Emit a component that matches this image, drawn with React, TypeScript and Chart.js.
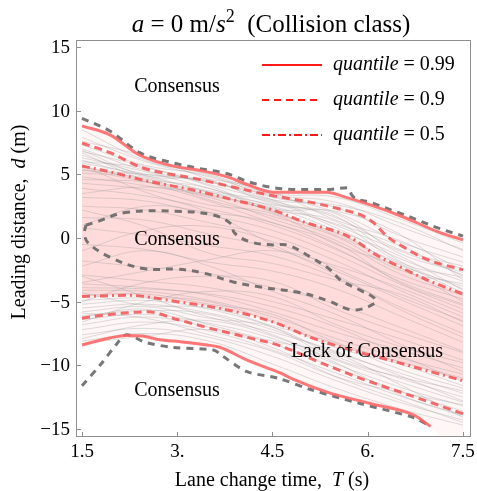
import React, { useEffect, useRef } from 'react';
import { Chart, registerables } from 'chart.js';
Chart.register(...registerables);

// ---------- data ----------
const xTicks = [1.5, 3, 4.5, 6, 7.5];
const xTickLabels = ['1.5', '3.', '4.5', '6.', '7.5'];
const yTicks = [-15, -10, -5, 0, 5, 10, 15];
const yTickLabels = ['\u221215', '\u221210', '\u22125', '0', '5', '10', '15'];

// quantile 0.99 (upper / lower)
const up99T = [1.5, 1.94, 2.41, 2.89, 3.36, 3.79, 4.1, 4.5, 5.36, 5.62, 6.04, 6.56, 7.1, 7.5];
const up99D = [8.8, 8.1, 6.5, 5.7, 5.3, 4.8, 4.2, 3.6, 3.6, 3.25, 2.6, 1.65, 0.5, -0.15];
const lo99T = [1.5, 1.94, 2.21, 2.45, 2.73, 3.05, 3.47, 3.68, 4.1, 4.62, 4.83, 5.36, 6.04, 6.72, 6.99];
const lo99D = [-8.4, -7.85, -7.65, -7.7, -8.0, -8.15, -8.4, -8.6, -9.6, -10.6, -11.1, -12.1, -13.0, -13.9, -14.8];
// lower edge of the faint band beyond the end of the 0.99 line (runs off the frame)
const bandEdgeT = [6.99, 7.3, 7.7];
const bandEdgeD = [-14.8, -16.5, -18.0];
// quantile 0.9
const up90T = [1.5, 1.94, 2.46, 3.25, 3.88, 4.42, 5.1, 5.62, 5.9, 6.09, 6.31, 6.56, 6.94, 7.5];
const up90D = [7.45, 6.7, 5.5, 4.7, 4.0, 3.4, 2.8, 2.2, 1.8, 1.2, 0.1, -0.7, -1.7, -2.5];
const lo90T = [1.5, 1.94, 2.53, 3.0, 3.52, 4.1, 4.58, 5.36, 5.93, 6.63, 7.5];
const lo90D = [-6.3, -6.0, -5.8, -6.4, -7.1, -7.8, -8.4, -10.0, -11.1, -12.3, -13.8];
// quantile 0.5
const up50T = [1.5, 1.94, 2.46, 3.25, 3.88, 4.51, 4.99, 5.62, 5.84, 6.09, 6.52, 6.94, 7.5];
const up50D = [5.65, 5.2, 4.55, 3.77, 3.0, 2.2, 1.26, 0.3, -0.3, -1.2, -2.3, -3.3, -4.4];
const lo50T = [1.5, 2.21, 3.0, 3.79, 4.51, 5.1, 5.88, 6.2, 6.99, 7.5];
const lo50D = [-4.6, -4.5, -5.0, -5.65, -6.6, -7.8, -9.0, -9.4, -10.5, -11.2];

// consensus boundary contours (gray dashed)
const topContT = [1.5, 1.94, 2.41, 2.89, 3.36, 3.79, 4.1, 4.51, 5.0, 5.36, 5.68, 5.76, 6.04, 6.56, 7.1, 7.5];
const topContD = [9.4, 8.4, 6.7, 5.95, 5.45, 5.05, 4.45, 3.95, 3.8, 3.8, 3.95, 3.3, 2.8, 1.85, 0.8, 0.15];
const islandT = [1.56, 1.75, 2.18, 2.97, 3.57, 3.85, 3.9, 4.15, 4.51, 4.73, 5.1, 5.41, 5.57, 5.88, 6.1, 6.12, 5.77, 5.36, 4.94, 4.31, 3.88, 3.41, 3.0, 2.46, 1.94, 1.6, 1.54, 1.56];
const islandD = [1.0, 1.3, 2.0, 2.1, 1.8, 1.1, 0.4, -0.3, -0.55, -0.55, -1.5, -2.5, -3.3, -4.1, -4.7, -5.1, -5.65, -4.9, -4.3, -3.85, -3.45, -2.75, -2.45, -2.4, -1.5, -0.4, 0.3, 1.0];
const lowContT = [1.5, 1.8, 2.05, 2.2, 2.5, 2.94, 3.57, 3.72, 4.1, 4.58, 5.1, 5.88, 6.72, 6.99];
const lowContD = [-11.6, -9.9, -8.3, -7.6, -8.2, -8.6, -8.8, -9.3, -10.5, -11.0, -11.9, -13.0, -14.1, -14.8];

// individual trajectories (thin gray)
const trajT = [1.5, 2.5, 3.5, 4.5, 5.5, 6.5, 7.5];
const trajectories: number[][] = [
  [8.5, 6.1, 5.0, 3.5, 3.2, 1.5, -0.4],
  [7.9, 6.0, 4.8, 3.4, 2.8, 0.9, -0.9],
  [7.3, 5.7, 4.9, 3.2, 2.4, 0.2, -1.5],
  [7.0, 5.3, 4.4, 3.3, 2.0, -0.3, -1.9],
  [6.8, 5.6, 4.2, 2.9, 1.6, -0.9, -2.2],
  [6.5, 5.0, 4.5, 2.7, 1.9, -1.2, -2.7],
  [6.3, 5.2, 3.9, 2.5, 1.1, -0.6, -3.0],
  [6.1, 4.8, 3.7, 2.8, 0.8, -1.6, -3.4],
  [5.9, 4.9, 3.6, 2.2, 1.3, -1.9, -3.1],
  [5.6, 4.6, 3.9, 2.0, 0.4, -2.1, -3.8],
  [5.4, 4.4, 3.3, 2.4, 0.6, -1.4, -4.1],
  [5.1, 4.7, 3.0, 1.7, 0.1, -2.5, -3.6],
  [4.8, 4.1, 3.2, 1.5, -0.2, -2.8, -4.5],
  [4.3, 3.8, 2.6, 1.9, -0.5, -2.3, -5.0],
  [3.9, 3.3, 2.3, 1.0, -0.9, -3.2, -4.8],
  [3.2, 2.9, 1.8, 0.6, -1.3, -3.6, -5.6],
  [2.5, 2.2, 1.2, 0.1, -1.8, -4.1, -6.2],
  [1.6, 1.4, 0.3, -0.8, -2.6, -4.8, -6.9],
  [0.8, 0.2, -0.6, -1.4, -3.1, -5.4, -7.5],
  [-0.5, -0.9, -1.9, -2.6, -4.0, -6.1, -8.2],
  [-1.8, -2.3, -2.8, -3.9, -5.2, -7.0, -8.9],
  [-2.9, -3.4, -3.9, -5.0, -6.4, -7.9, -9.6],
  [2.2, 0.9, -1.2, -2.0, -3.3, -4.4, -6.6],
  [-3.5, -2.6, -1.7, -1.0, -2.2, -3.9, -5.9],
  [-3.6, -3.9, -4.5, -5.8, -7.4, -8.8, -10.2],
  [-4.1, -4.2, -4.9, -6.2, -7.9, -9.4, -10.7],
  [-4.5, -4.4, -5.2, -6.0, -8.2, -9.7, -11.0],
  [-4.9, -4.7, -5.0, -6.6, -8.6, -9.9, -11.6],
  [-5.2, -4.9, -5.6, -6.9, -8.3, -10.3, -11.8],
  [-5.5, -5.2, -5.9, -7.2, -9.0, -10.6, -12.2],
  [-5.8, -5.4, -6.3, -7.0, -9.3, -11.0, -12.5],
  [-6.1, -5.7, -6.0, -7.6, -9.6, -11.3, -12.9],
  [-6.4, -6.0, -6.7, -7.9, -9.9, -11.7, -13.2],
  [-6.8, -6.2, -7.0, -8.3, -10.2, -12.0, -13.6],
  [-7.2, -6.6, -7.3, -8.8, -10.6, -12.4, -13.9],
  [-7.6, -7.1, -7.8, -9.3, -11.2, -12.9, -14.3],
  [-8.1, -7.5, -8.1, -9.9, -11.8, -13.4, -14.7],
  [7.6, 6.4, 4.6, 3.0, 2.6, 1.2, -1.0],
  [6.9, 4.9, 4.6, 3.6, 1.4, -0.2, -2.5],
  [6.0, 5.5, 4.1, 2.3, 2.1, 0.3, -3.3],
  [5.3, 5.0, 4.4, 3.0, 1.0, -1.0, -2.9],
  [4.6, 4.4, 3.6, 2.6, 1.7, -1.8, -4.0],
  [6.7, 4.5, 2.9, 1.2, -0.4, -3.5, -5.3],
  [3.5, 4.0, 3.4, 2.1, 0.2, -2.0, -4.3],
  [5.7, 3.6, 2.0, -0.5, -2.9, -5.6, -7.8],
  [1.0, 2.5, 2.0, 1.2, -0.8, -3.4, -5.2],
  [-1.0, 0.6, 0.9, -0.3, -2.4, -4.6, -6.5],
  [-2.2, -1.0, -2.2, -4.2, -6.0, -8.3, -10.5],
  [-5.0, -3.5, -3.0, -3.4, -5.6, -7.4, -9.0],
  [-6.6, -5.0, -4.2, -4.6, -6.8, -8.5, -9.8],
  [-3.0, -4.6, -6.2, -7.4, -8.9, -10.8, -12.8],
  [-7.9, -6.8, -6.5, -7.7, -9.8, -12.3, -14.0],
  [-5.9, -6.3, -7.6, -8.9, -10.9, -12.1, -13.1],
  [-4.3, -5.3, -5.5, -7.0, -9.5, -10.9, -12.0],
  [-8.3, -7.7, -7.2, -8.6, -10.9, -12.7, -14.5],
  [-6.2, -5.6, -6.8, -8.1, -9.1, -11.5, -14.1],
  [-3.9, -4.0, -4.4, -5.4, -7.0, -9.2, -11.3],
];

const legendLabels = ['0.99', '0.9', '0.5'];

// ---------- styling ----------
const FONT = '"Liberation Serif", "Times New Roman", Times, serif';
const RED = 'rgba(243, 82, 82, 0.85)';
const GRAYDASH = 'rgba(95, 95, 95, 0.85)';
const DASH = [8, 5];
const DASHDOT = [8, 4, 2, 4];
const CONTDASH = [7, 6];

const pts = (xs: number[], ys: number[]) => xs.map((x, i) => ({ x, y: ys[i] }));

type Part = { t: string; i?: boolean; sup?: boolean };
function rich(ctx: CanvasRenderingContext2D, parts: Part[], x: number, y: number, size: number, align: 'left' | 'center') {
  const fontOf = (p: Part) => `${p.i ? 'italic ' : ''}${p.sup ? Math.round(size * 0.7) : size}px ${FONT}`;
  let w = 0;
  for (const p of parts) { ctx.font = fontOf(p); w += ctx.measureText(p.t).width; }
  let cx = align === 'center' ? x - w / 2 : x;
  ctx.textAlign = 'left';
  for (const p of parts) {
    ctx.font = fontOf(p);
    ctx.fillText(p.t, cx, p.sup ? y - size * 0.42 : y);
    cx += ctx.measureText(p.t).width;
  }
}

const decor = {
  id: 'decor',
  afterDraw(chart: any) {
    const { ctx, chartArea: a } = chart;
    const xs = chart.scales.x, ys = chart.scales.y;
    ctx.save();
    // frame
    ctx.strokeStyle = '#8f8f8f';
    ctx.lineWidth = 1;
    ctx.setLineDash([]);
    ctx.strokeRect(a.left + 0.5, a.top + 0.5, a.right - a.left - 1, a.bottom - a.top - 1);
    // inward ticks
    ctx.beginPath();
    xTicks.forEach(v => {
      const px = Math.round(xs.getPixelForValue(v)) + 0.5;
      ctx.moveTo(px, a.bottom); ctx.lineTo(px, a.bottom - 5);
    });
    yTicks.forEach(v => {
      const py = Math.round(ys.getPixelForValue(v)) + 0.5;
      ctx.moveTo(a.left, py); ctx.lineTo(a.left + 5, py);
    });
    ctx.stroke();
    // tick labels
    ctx.fillStyle = '#000';
    ctx.font = `19px ${FONT}`;
    ctx.textBaseline = 'alphabetic';
    ctx.textAlign = 'center';
    xTicks.forEach((v, i) => ctx.fillText(xTickLabels[i], xs.getPixelForValue(v), 457));
    ctx.textAlign = 'right';
    ctx.textBaseline = 'middle';
    yTicks.forEach((v, i) => ctx.fillText(yTickLabels[i], a.left - 6, ys.getPixelForValue(v) + 1));
    // title
    ctx.textBaseline = 'alphabetic';
    rich(ctx, [{ t: 'a', i: true }, { t: ' = 0 m/' }, { t: 's', i: true }, { t: '2', sup: true }, { t: '  (Collision class)' }], 271, 32, 25, 'center');
    // x axis title
    rich(ctx, [{ t: 'Lane change time,  ' }, { t: 'T', i: true }, { t: ' (s)' }], 272, 486, 20, 'center');
    // y axis title
    ctx.save();
    ctx.translate(25, 222);
    ctx.rotate(-Math.PI / 2);
    rich(ctx, [{ t: 'Leading distance,  ' }, { t: 'd', i: true }, { t: ' (m)' }], 0, 0, 20, 'center');
    ctx.restore();
    // region annotations
    ctx.textBaseline = 'middle';
    ctx.textAlign = 'center';
    ctx.font = `20px ${FONT}`;
    ctx.fillText('Consensus', 177, 87);
    ctx.fillText('Consensus', 177, 240);
    ctx.fillText('Consensus', 177, 391);
    ctx.fillText('Lack of Consensus', 367, 352);
    // legend
    const rows = [65, 100, 135];
    const dashes = [[], [7, 5], [8, 3, 2, 3]];
    rows.forEach((ry, i) => {
      ctx.strokeStyle = '#ff1a1a';
      ctx.lineWidth = 2;
      ctx.setLineDash(dashes[i]);
      ctx.beginPath();
      ctx.moveTo(262, ry); ctx.lineTo(322, ry);
      ctx.stroke();
      ctx.setLineDash([]);
      ctx.fillStyle = '#000';
      ctx.textBaseline = 'middle';
      rich(ctx, [{ t: 'quantile', i: true }, { t: ' = ' + legendLabels[i] }], 333, ry, 20, 'left');
    });
    ctx.restore();
  },
};

export default function App() {
  const ref = useRef<HTMLCanvasElement>(null);
  useEffect(() => {
    const base = { pointRadius: 0, fill: false as any, borderCapStyle: 'butt' as const };
    const bandEdge = [...pts(lo99T, lo99D), ...pts(bandEdgeT, bandEdgeD).slice(1)];
    const datasets: any[] = [
      { ...base, label: 'upper 0.99', data: pts(up99T, up99D), borderColor: 'rgba(255, 95, 95, 0.85)', borderWidth: 3, cubicInterpolationMode: 'monotone', fill: { target: 9 }, backgroundColor: 'rgba(255, 0, 0, 0.035)' },
      { ...base, label: 'upper 0.9', data: pts(up90T, up90D), borderColor: RED, borderWidth: 3, borderDash: DASH, cubicInterpolationMode: 'monotone' },
      { ...base, label: 'upper 0.5', data: pts(up50T, up50D), borderColor: RED, borderWidth: 3, borderDash: DASHDOT, cubicInterpolationMode: 'monotone', fill: { target: 5 }, backgroundColor: 'rgba(255, 0, 0, 0.11)' },
      { ...base, label: 'lower 0.99', data: pts(lo99T, lo99D), borderColor: 'rgba(255, 95, 95, 0.85)', borderWidth: 3, cubicInterpolationMode: 'monotone' },
      { ...base, label: 'lower 0.9', data: pts(lo90T, lo90D), borderColor: RED, borderWidth: 3, borderDash: DASH, cubicInterpolationMode: 'monotone' },
      { ...base, label: 'lower 0.5', data: pts(lo50T, lo50D), borderColor: RED, borderWidth: 3, borderDash: DASHDOT, cubicInterpolationMode: 'monotone' },
      { ...base, label: 'top contour', data: pts(topContT, topContD), borderColor: GRAYDASH, borderWidth: 3, borderDash: CONTDASH, cubicInterpolationMode: 'monotone' },
      { ...base, label: 'island contour', data: pts(islandT, islandD), borderColor: GRAYDASH, borderWidth: 3, borderDash: CONTDASH, tension: 0.4 },
      { ...base, label: 'low contour', data: pts(lowContT, lowContD), borderColor: GRAYDASH, borderWidth: 3, borderDash: CONTDASH, tension: 0.3 },
      { ...base, label: 'band edge', data: bandEdge, borderColor: 'rgba(0,0,0,0)', borderWidth: 0, cubicInterpolationMode: 'monotone' },
      ...trajectories.map((ys, k) => ({
        ...base, label: 'traj ' + k, data: pts(trajT, ys),
        borderColor: 'rgba(150, 150, 150, 0.4)', borderWidth: 0.8, tension: 0.4,
      })),
    ];
    const chart = new Chart(ref.current as HTMLCanvasElement, {
      type: 'line',
      data: { datasets },
      options: {
        responsive: false,
        animation: false,
        events: [],
        layout: { padding: { top: 40, right: 6, left: 0, bottom: 0 } },
        plugins: {
          legend: { display: false },
          tooltip: { enabled: false },
          title: { display: false },
          filler: { drawTime: 'beforeDatasetsDraw' } as any,
        },
        scales: {
          x: {
            type: 'linear', min: 1.4055, max: 7.626,
            ticks: { display: false }, grid: { display: false }, border: { display: false },
            afterFit: (s: any) => { s.height = 54; },
          },
          y: {
            type: 'linear', min: -15.63, max: 15.55,
            ticks: { display: false }, grid: { display: false }, border: { display: false },
            afterFit: (s: any) => { s.width = 76; },
          },
        },
      } as any,
      plugins: [decor],
    });
    return () => chart.destroy();
  }, []);
  return (
    <div style={{ position: 'fixed', left: 0, top: 0, width: 477, height: 491, background: '#fff' }}>
      <canvas ref={ref} width={477} height={491} style={{ display: 'block' }} />
    </div>
  );
}
